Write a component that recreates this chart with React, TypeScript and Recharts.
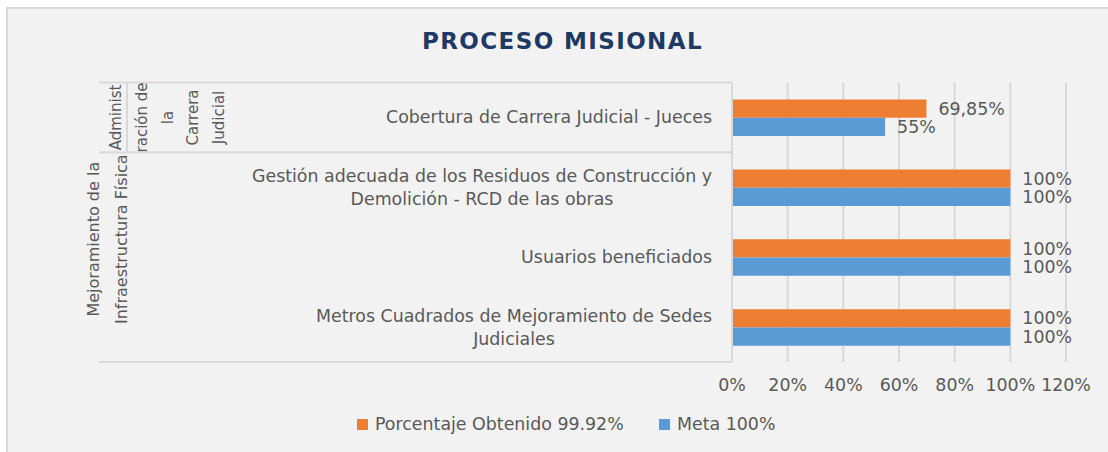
import React from "react";
import {
  Bar,
  BarChart,
  CartesianGrid,
  LabelList,
  Legend,
  XAxis,
  YAxis,
} from "recharts";

// chart values
const categories = [
  "Cobertura de Carrera Judicial - Jueces",
  "Gestión adecuada de los Residuos de Construcción y Demolición - RCD de las obras",
  "Usuarios beneficiados",
  "Metros Cuadrados de Mejoramiento de Sedes Judiciales",
];
const obtenido = [69.85, 100, 100, 100];
const meta = [55, 100, 100, 100];
const xTicks = [0, 20, 40, 60, 80, 100, 120];

// outer category groups (first row index, last row index, wrapped lines)
const groupRows = [
  [0, 0],
  [1, 3],
];
const groupLines = [
  ["Administ", "ración de", "la", "Carrera", "Judicial"],
  ["Mejoramiento de la", "Infraestructura Física"],
];

const seriesNames = ["Porcentaje Obtenido 99.92%", "Meta 100%"];
const ORANGE = "#ED7D31";
const BLUE = "#5B9BD5";
const TEXT = "#595959";
const GRID = "#d9d9d9";
const FONT = "DejaVu Sans";
const FS = 17.4;
const SEP_X = 99;

const data = categories.map((name, i) => ({
  name,
  obtenido: obtenido[i],
  meta: meta[i],
}));

const W = 1108;
const H = 452;
const PLOT_TOP = 82.5;
const PLOT_BOTTOM = 362;
const BAND = (PLOT_BOTTOM - PLOT_TOP) / categories.length;

let ctx: CanvasRenderingContext2D | null = null;
const measure = (s: string, font: string) => {
  if (!ctx) ctx = document.createElement("canvas").getContext("2d");
  if (!ctx) return s.length * 9;
  ctx.font = font;
  return ctx.measureText(s).width;
};

const wrap = (s: string, max: number, font: string) => {
  const words = s.split(" ");
  const lines: string[] = [];
  let cur = "";
  words.forEach((w) => {
    const next = cur ? cur + " " + w : w;
    if (cur && measure(next, font) > max) {
      lines.push(cur);
      cur = w;
    } else cur = next;
  });
  if (cur) lines.push(cur);
  return lines;
};

const pct = (v: number) => `${String(v).replace(".", ",")}%`;

const CategoryTick = (props: any) => {
  const { x, y, payload, index } = props;
  const font = `${FS}px "${FONT}"`;
  const lines = wrap(String(payload.value), 480, font);
  const w = Math.max(...lines.map((l) => measure(l, font)));
  const cx = x - w / 2;
  const lh = 23;
  const y0 = y - ((lines.length - 1) * lh) / 2;
  const axisX = x + 20;

  const extras: React.ReactNode[] = [];
  groupRows.forEach(([from, to], g) => {
    if (index === from) {
      extras.push(
        <rect key={`t${g}`} x={SEP_X} y={y - BAND / 2 - 1} width={axisX - SEP_X} height={2} fill={GRID} />
      );
    }
    if (index === to && g === groupRows.length - 1) {
      extras.push(
        <rect key={`b${g}`} x={SEP_X} y={y + BAND / 2 - 1} width={axisX - SEP_X} height={2} fill={GRID} />
      );
    }
    // group label drawn at the middle row of the group
    const mid = Math.floor((from + to) / 2);
    if (index === mid) {
      const gl = groupLines[g];
      const small = gl.length > 2;
      if (small) {
        extras.push(
          <rect key={`v${g}`} x={126} y={y - BAND / 2} width={2} height={BAND} fill={GRID} />
        );
      }
      const colX = small ? 116 : 93.5;
      const step = small ? 25.8 : 27.5;
      const cy = small ? y : y - 18;
      gl.forEach((t, k) => {
        const tx = colX + k * step;
        extras.push(
          <text
            key={`g${g}-${k}`}
            x={tx}
            y={cy}
            transform={`rotate(-90 ${tx} ${cy})`}
            textAnchor="middle"
            dominantBaseline="central"
            fontFamily={FONT}
            fontSize={small ? 15 : 16}
            fill={TEXT}
          >
            {t}
          </text>
        );
      });
    }
  });

  return (
    <g>
      {extras}
      {lines.map((l, k) => (
        <text
          key={k}
          x={cx}
          y={y0 + k * lh}
          dy={6}
          textAnchor="middle"
          fontFamily={FONT}
          fontSize={FS}
          fill={TEXT}
        >
          {l}
        </text>
      ))}
    </g>
  );
};

const LegendContent = () => (
  <div style={{ position: "relative", height: 24, fontFamily: FONT, fontSize: FS, color: TEXT }}>
    {[ORANGE, BLUE].map((c, i) => (
      <div
        key={i}
        style={{
          position: "absolute",
          left: i === 0 ? 357 : 659,
          top: 0,
          height: 24,
          display: "flex",
          alignItems: "center",
          whiteSpace: "nowrap",
        }}
      >
        <span style={{ width: 11, height: 11, background: c, marginRight: 7, display: "inline-block" }} />
        <span style={{ lineHeight: "24px" }}>{seriesNames[i]}</span>
      </div>
    ))}
  </div>
);

export default function App() {
  return (
    <div style={{ position: "absolute", left: 0, top: 0, width: W, height: H, background: "#fff", overflow: "hidden" }}>
      <div
        style={{
          position: "absolute",
          left: 6,
          top: 7,
          width: W,
          height: H,
          background: "#f2f2f2",
          borderLeft: `2px solid ${GRID}`,
          borderTop: `2px solid ${GRID}`,
        }}
      />
      <div
        style={{
          position: "absolute",
          left: 562.5,
          top: 29.6,
          transform: "translateX(-50%)",
          fontFamily: FONT,
          fontWeight: "bold",
          fontSize: 23,
          lineHeight: "23px",
          letterSpacing: "1.4px",
          color: "#203864",
          whiteSpace: "nowrap",
        }}
      >
        PROCESO MISIONAL
      </div>
      <div style={{ position: "absolute", left: 0, top: 0 }}>
        <BarChart
          width={W}
          height={H}
          data={data}
          layout="vertical"
          barGap={0}
          margin={{ top: PLOT_TOP, right: 42, bottom: 36, left: 0 }}
        >
          <CartesianGrid horizontal={false} stroke={GRID} strokeWidth={2} />
          <XAxis
            type="number"
            domain={[0, 120]}
            ticks={xTicks}
            tickFormatter={(v) => `${v}%`}
            axisLine={false}
            tickLine={false}
            tickMargin={11}
            height={30}
            tick={{ fill: TEXT, fontSize: FS, fontFamily: FONT }}
          />
          <YAxis
            type="category"
            dataKey="name"
            width={732}
            tickLine={false}
            tickSize={0}
            tickMargin={20}
            axisLine={{ stroke: GRID, strokeWidth: 2 }}
            interval={0}
            tick={<CategoryTick />}
          />
          <Legend
            verticalAlign="bottom"
            content={<LegendContent />}
            wrapperStyle={{ left: 0, top: 412, width: W, height: 24 }}
          />
          <Bar dataKey="obtenido" name={seriesNames[0]} fill={ORANGE} barSize={18.3} isAnimationActive={false}>
            <LabelList
              dataKey="obtenido"
              position="right"
              offset={12}
              formatter={(v: any) => pct(Number(v))}
              style={{ fill: TEXT, fontSize: FS, fontFamily: FONT }}
            />
          </Bar>
          <Bar dataKey="meta" name={seriesNames[1]} fill={BLUE} barSize={18.3} isAnimationActive={false}>
            <LabelList
              dataKey="meta"
              position="right"
              offset={12}
              formatter={(v: any) => pct(Number(v))}
              style={{ fill: TEXT, fontSize: FS, fontFamily: FONT }}
            />
          </Bar>
        </BarChart>
      </div>
    </div>
  );
}
